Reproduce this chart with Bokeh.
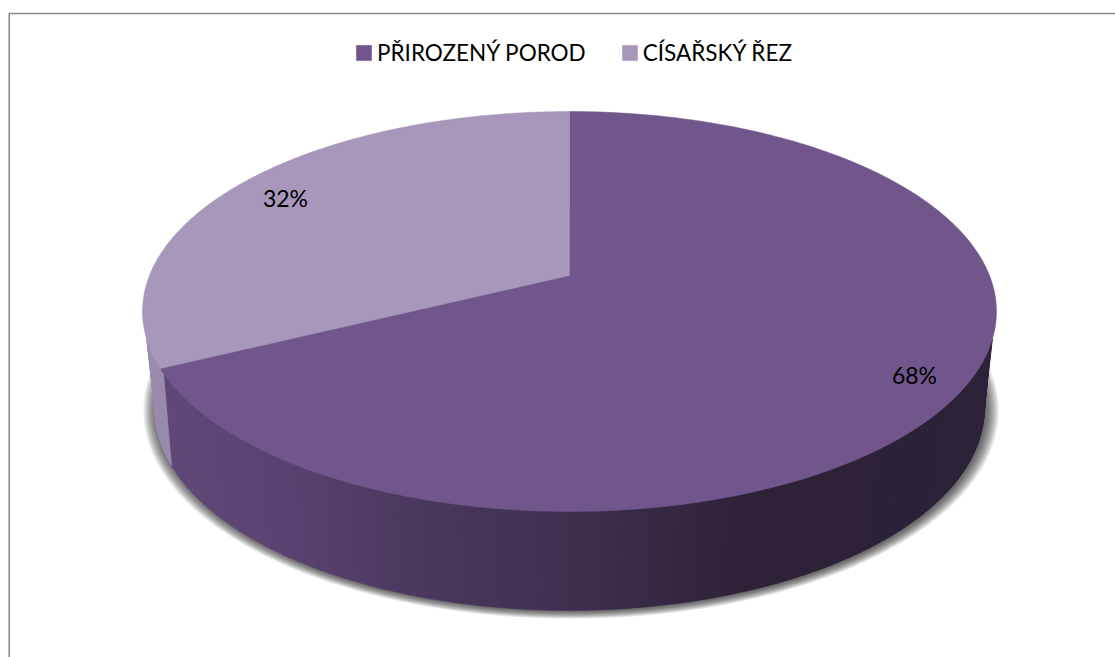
import numpy as np
from bokeh.plotting import figure
from bokeh.models import Range1d, Legend, LegendItem
from bokeh.core.properties import value
from bokeh.embed import file_html
from bokeh.resources import INLINE

# data
categories = ["PŘIROZENÝ POROD", "CÍSAŘSKÝ ŘEZ"]
shares = [67.7, 32.3]
labels = ["68%", "32%"]

# style / layout
TOP_COLORS = ["#71568C", "#A697BB"]
LIGHT_WALL = "#9A8BAE"
FONT = "Lato"
LEGEND_SIZE = "22.5px"
LABEL_SIZE = "23px"
LABEL_POS = [(914, 374), (285, 197)]
CX, K = 569.0, 0.18
TOP = dict(a=420.0, b=193.5, y0=275.0)
BOT = dict(a=408.0, b=195.0, y0=372.0)
WALL_X = [150, 300, 400, 570, 740, 1000]
WALL_R = [0x61, 0x5A, 0x4C, 0x3F, 0x2E, 0x2C]
WALL_G = [0x4A, 0x42, 0x3A, 0x30, 0x23, 0x22]
WALL_B = [0x79, 0x70, 0x61, 0x50, 0x39, 0x38]


def rim(theta, e, scale=1.0):
    u, v = np.sin(theta) * scale, np.cos(theta) * scale
    w = 1 + K * np.cos(theta)
    return CX + e["a"] * u / w, e["y0"] - e["b"] * v / w


p = figure(width=1115, height=657, output_backend="svg", toolbar_location=None,
           x_range=Range1d(0, 1115), y_range=Range1d(657, 0),
           min_border=0, outline_line_color=None, background_fill_color="white")
p.axis.visible = False
p.grid.visible = False

# chart frame (top and left edges only)
p.line([1115, 8.75, 8.75], [13, 13, 657], line_color="#8A8A8A", line_width=1.6)

fr = np.array(shares, dtype=float) / sum(shares)
split = 2 * np.pi * fr[0]

# soft shadow beneath the pie
ring = np.linspace(0, 2 * np.pi, 361)
for d in np.arange(13, 0, -1.5):
    sx, sy = rim(ring, BOT, 1 + d / 420)
    p.patch(sx + 1.5, sy + 1, fill_color="black", fill_alpha=0.085, line_color=None)

# side wall: strips shaded from left to right
th = np.radians(np.linspace(100, 260, 161))
th_top = np.interp(th, np.radians([100, 130, 240, 260]), np.radians([108, 130, 240, 252]))
wx, wy, colors = [], [], []
for t0, t1, a0, a1 in zip(th[:-1], th[1:], th_top[:-1], th_top[1:]):
    tx0, ty0 = rim(a0, TOP)
    tx1, ty1 = rim(a1, TOP)
    bx0, by0 = rim(t0, BOT)
    bx1, by1 = rim(t1, BOT)
    wx.append([tx0, tx1, bx1, bx0])
    wy.append([ty0, ty1, by1, by0])
    mid = 0.5 * (t0 + t1)
    if mid > split:
        colors.append(LIGHT_WALL)
    else:
        xm = (tx0 + tx1 + bx0 + bx1) / 4
        r = int(np.interp(xm, WALL_X, WALL_R))
        g = int(np.interp(xm, WALL_X, WALL_G))
        b = int(np.interp(xm, WALL_X, WALL_B))
        colors.append(f"#{r:02x}{g:02x}{b:02x}")
p.patches(wx, wy, fill_color=colors, line_color=colors, line_width=0.8)

# top face
items = []
start_frac = 0.0
for name, f, col in zip(categories, fr, TOP_COLORS):
    tt = np.linspace(start_frac, start_frac + f, 240) * 2 * np.pi
    x, y = rim(tt, TOP)
    r = p.patch(np.r_[CX, x], np.r_[TOP["y0"], y], fill_color=col, line_color=col, line_width=0.5)
    items.append(LegendItem(label=name, renderers=[r]))
    start_frac += f

for txt, (lx, ly) in zip(labels, LABEL_POS):
    p.text([lx], [ly], text=[txt], text_font=value(FONT), text_font_size=LABEL_SIZE,
           text_align="center", text_baseline="middle", text_color="black")

legend = Legend(items=items, orientation="horizontal", location=(354, 591),
                background_fill_alpha=0, border_line_color=None,
                glyph_width=19, glyph_height=19, label_standoff=4, spacing=34,
                padding=0, margin=0, label_text_font=FONT, label_text_font_size=LEGEND_SIZE,
                label_text_color="black", label_height=19)
p.add_layout(legend, "center")

open("out.html", "w").write(file_html(p, INLINE))
